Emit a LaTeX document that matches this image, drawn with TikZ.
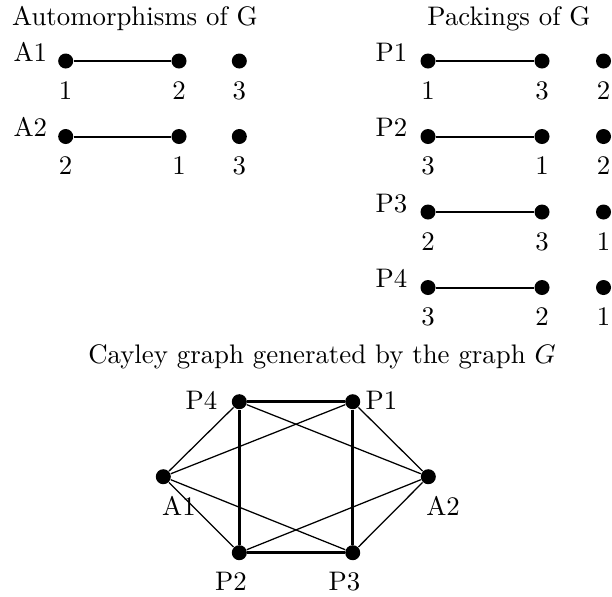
\documentclass[tikz,border=0pt]{standalone}
\usetikzlibrary{positioning}
\begin{document}
\begin{tikzpicture}[x=0.373pt,y=-0.373pt]
  \tikzset{vtx/.style={circle,fill=black,inner sep=0pt,minimum size=5.6pt},
    txt/.style={inner sep=0pt,anchor=base},
    rowedge/.style={line width=0.75pt},
    cayedge/.style={line width=0.47pt},
    sqedge/.style={line width=1.12pt}}
  \useasboundingbox (0,0) rectangle (612,596);
  \node[txt] (autT) at (135,25) {Automorphisms of G};
  \node[txt] (packT) at (509,25) {Packings of G};
  \foreach \nm/\u/\v/\w [count=\n] in {A1/1/2/3,A2/2/1/3} {
    \pgfmathsetmacro\yy{61+75.5*(\n-1)}
    \node[txt,anchor=base west] (al\n) at (13,\yy) {\nm};
    \node[vtx] (au\n) at (65.7,\yy) {};
    \node[vtx] (av\n) at (179,\yy) {};
    \node[vtx] (aw\n) at (239.3,\yy) {};
    \draw[rowedge] (au\n) -- (av\n);
    \node[txt] at (65.7,{\yy+38}) {\u};
    \node[txt] at (179,{\yy+38}) {\v};
    \node[txt] at (239.3,{\yy+38}) {\w};
  }
  \foreach \nm/\u/\v/\w [count=\n] in {P1/1/3/2,P2/3/1/2,P3/2/3/1,P4/3/2/1} {
    \pgfmathsetmacro\yy{61+75.5*(\n-1)}
    \node[txt,anchor=base west] (pl\n) at (375,\yy) {\nm};
    \node[vtx] (pu\n) at (428,\yy) {};
    \node[vtx] (pv\n) at (542,\yy) {};
    \node[vtx] (pw\n) at (603.5,\yy) {};
    \draw[rowedge] (pu\n) -- (pv\n);
    \node[txt] at (428,{\yy+38}) {\u};
    \node[txt] at (542,{\yy+38}) {\v};
    \node[txt] at (603.5,{\yy+38}) {\w};
  }
  \node[txt] (cayT) at (322,363) {Cayley graph generated by the graph $G$};
  \node[vtx] (P4) at (239.3,401.7) {};
  \node[vtx] (P1) at (352.7,401.7) {};
  \node[vtx] (A1) at (163.3,476.7) {};
  \node[vtx] (A2) at (428.3,476.7) {};
  \node[vtx] (P2) at (239.3,552.7) {};
  \node[vtx] (P3) at (352.7,552.7) {};
  \node[txt] (lP4) at (201.5,409) {P4};
  \node[txt] (lP1) at (381.5,409) {P1};
  \node[txt] (lA1) at (179,515) {A1};
  \node[txt] (lA2) at (443,515) {A2};
  \node[txt] (lP2) at (231,590.7) {P2};
  \node[txt] (lP3) at (344.5,590.7) {P3};
  \foreach \a in {A1,A2}
    \foreach \p in {P1,P2,P3,P4}
      \draw[cayedge] (\a) -- (\p);
  \draw[sqedge] (P4) -- (P1) -- (P3) -- (P2) -- (P4);
\end{tikzpicture}
\end{document}
